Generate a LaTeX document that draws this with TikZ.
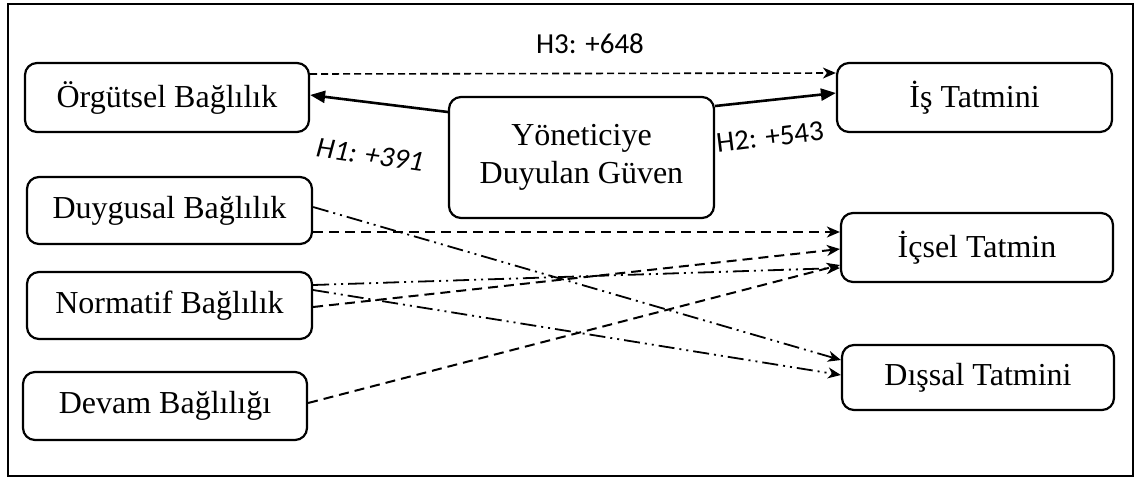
\documentclass[tikz,border=0pt]{standalone}
\usepackage{fontspec}
\setmainfont{Liberation Serif}
\newfontfamily\boxfont{Liberation Serif}
\newfontfamily\lblfont{Carlito}
\usetikzlibrary{arrows.meta}
\tikzset{
  box/.style={draw, line width=2.2pt, rounded corners=12pt, inner sep=0pt, align=center,
    font=\boxfont\fontsize{32}{38}\selectfont},
  lbl/.style={font=\lblfont\fontsize{29}{34}\selectfont, inner sep=0pt},
  solidarr/.style={line width=2.6pt, -{Triangle[length=15pt,width=12pt]}},
  dasharr/.style={line width=1.6pt, dash pattern=on 7pt off 4pt, -{Stealth[length=13pt,width=11pt,inset=4pt]}},
  dasharrb/.style={line width=2pt, dash pattern=on 10pt off 6pt, -{Stealth[length=13pt,width=11pt,inset=4pt]}},
  ddarr/.style={line width=1.8pt, dash pattern=on 16pt off 5pt on 2pt off 5pt on 2pt off 5pt, -{Stealth[length=13pt,width=11pt,inset=4pt]}},
}
\begin{document}
\begin{tikzpicture}[x=1pt,y=-1pt]
\useasboundingbox (0,0) rectangle (1138,480);
\draw[line width=2.2pt] (8,4) rectangle (1133,476);
\node[box, minimum width=284pt, minimum height=69pt] (org) at (167,97.5) {Örgütsel Bağlılık};
\node[box, minimum width=265pt, minimum height=121pt] (yon) at (581.5,157.5) {Yöneticiye\\Duyulan Güven};
\node[box, minimum width=275pt, minimum height=69pt] (is) at (974.5,97.5) {İş Tatmini};
\node[box, minimum width=285pt, minimum height=67pt] (duy) at (169.5,210.5) {Duygusal Bağlılık};
\node[box, minimum width=285pt, minimum height=67pt] (nor) at (169.5,305.5) {Normatif Bağlılık};
\node[box, minimum width=284pt, minimum height=68pt] (dev) at (165,406) {Devam Bağlılığı};
\node[box, minimum width=272pt, minimum height=69pt] (ic) at (977,247.5) {İçsel Tatmin};
\node[box, minimum width=272pt, minimum height=65pt] (dis) at (978,377.5) {Dışsal Tatmini};
% top connectors
\draw[dasharr] ([yshift=23.5pt]org.east) -- ([yshift=24.5pt]is.west);
\draw[solidarr] ([yshift=45.5pt]yon.west) -- ([yshift=2.5pt]org.east);
\draw[solidarr] ([yshift=51.5pt]yon.east) -- ([yshift=4.5pt]is.west);
\node[lbl] (h3) at (590,44) {H3: +648};
\node[lbl, rotate=-8] (h1) at (370,155) {\itshape H1: +391};
\node[lbl, rotate=7] (h2) at (770,137) {H2: +543};
% lower connectors
\draw[dasharrb] ([yshift=-21.5pt]duy.east) -- ([yshift=15.5pt]ic.west);
\draw[ddarr] ([yshift=3.5pt]duy.east) -- ([yshift=17.5pt]dis.west);
\draw[ddarr] ([yshift=20.5pt]nor.east) -- ([yshift=-20.5pt]ic.west);
\draw[dasharrb] ([yshift=-1.5pt]nor.east) -- ([yshift=-1.5pt]ic.west);
\draw[ddarr] ([yshift=15.5pt]nor.east) -- ([yshift=2.5pt]dis.west);
\draw[dasharrb] ([yshift=3pt]dev.east) -- ([yshift=-17.5pt]ic.west);
\end{tikzpicture}
\end{document}
